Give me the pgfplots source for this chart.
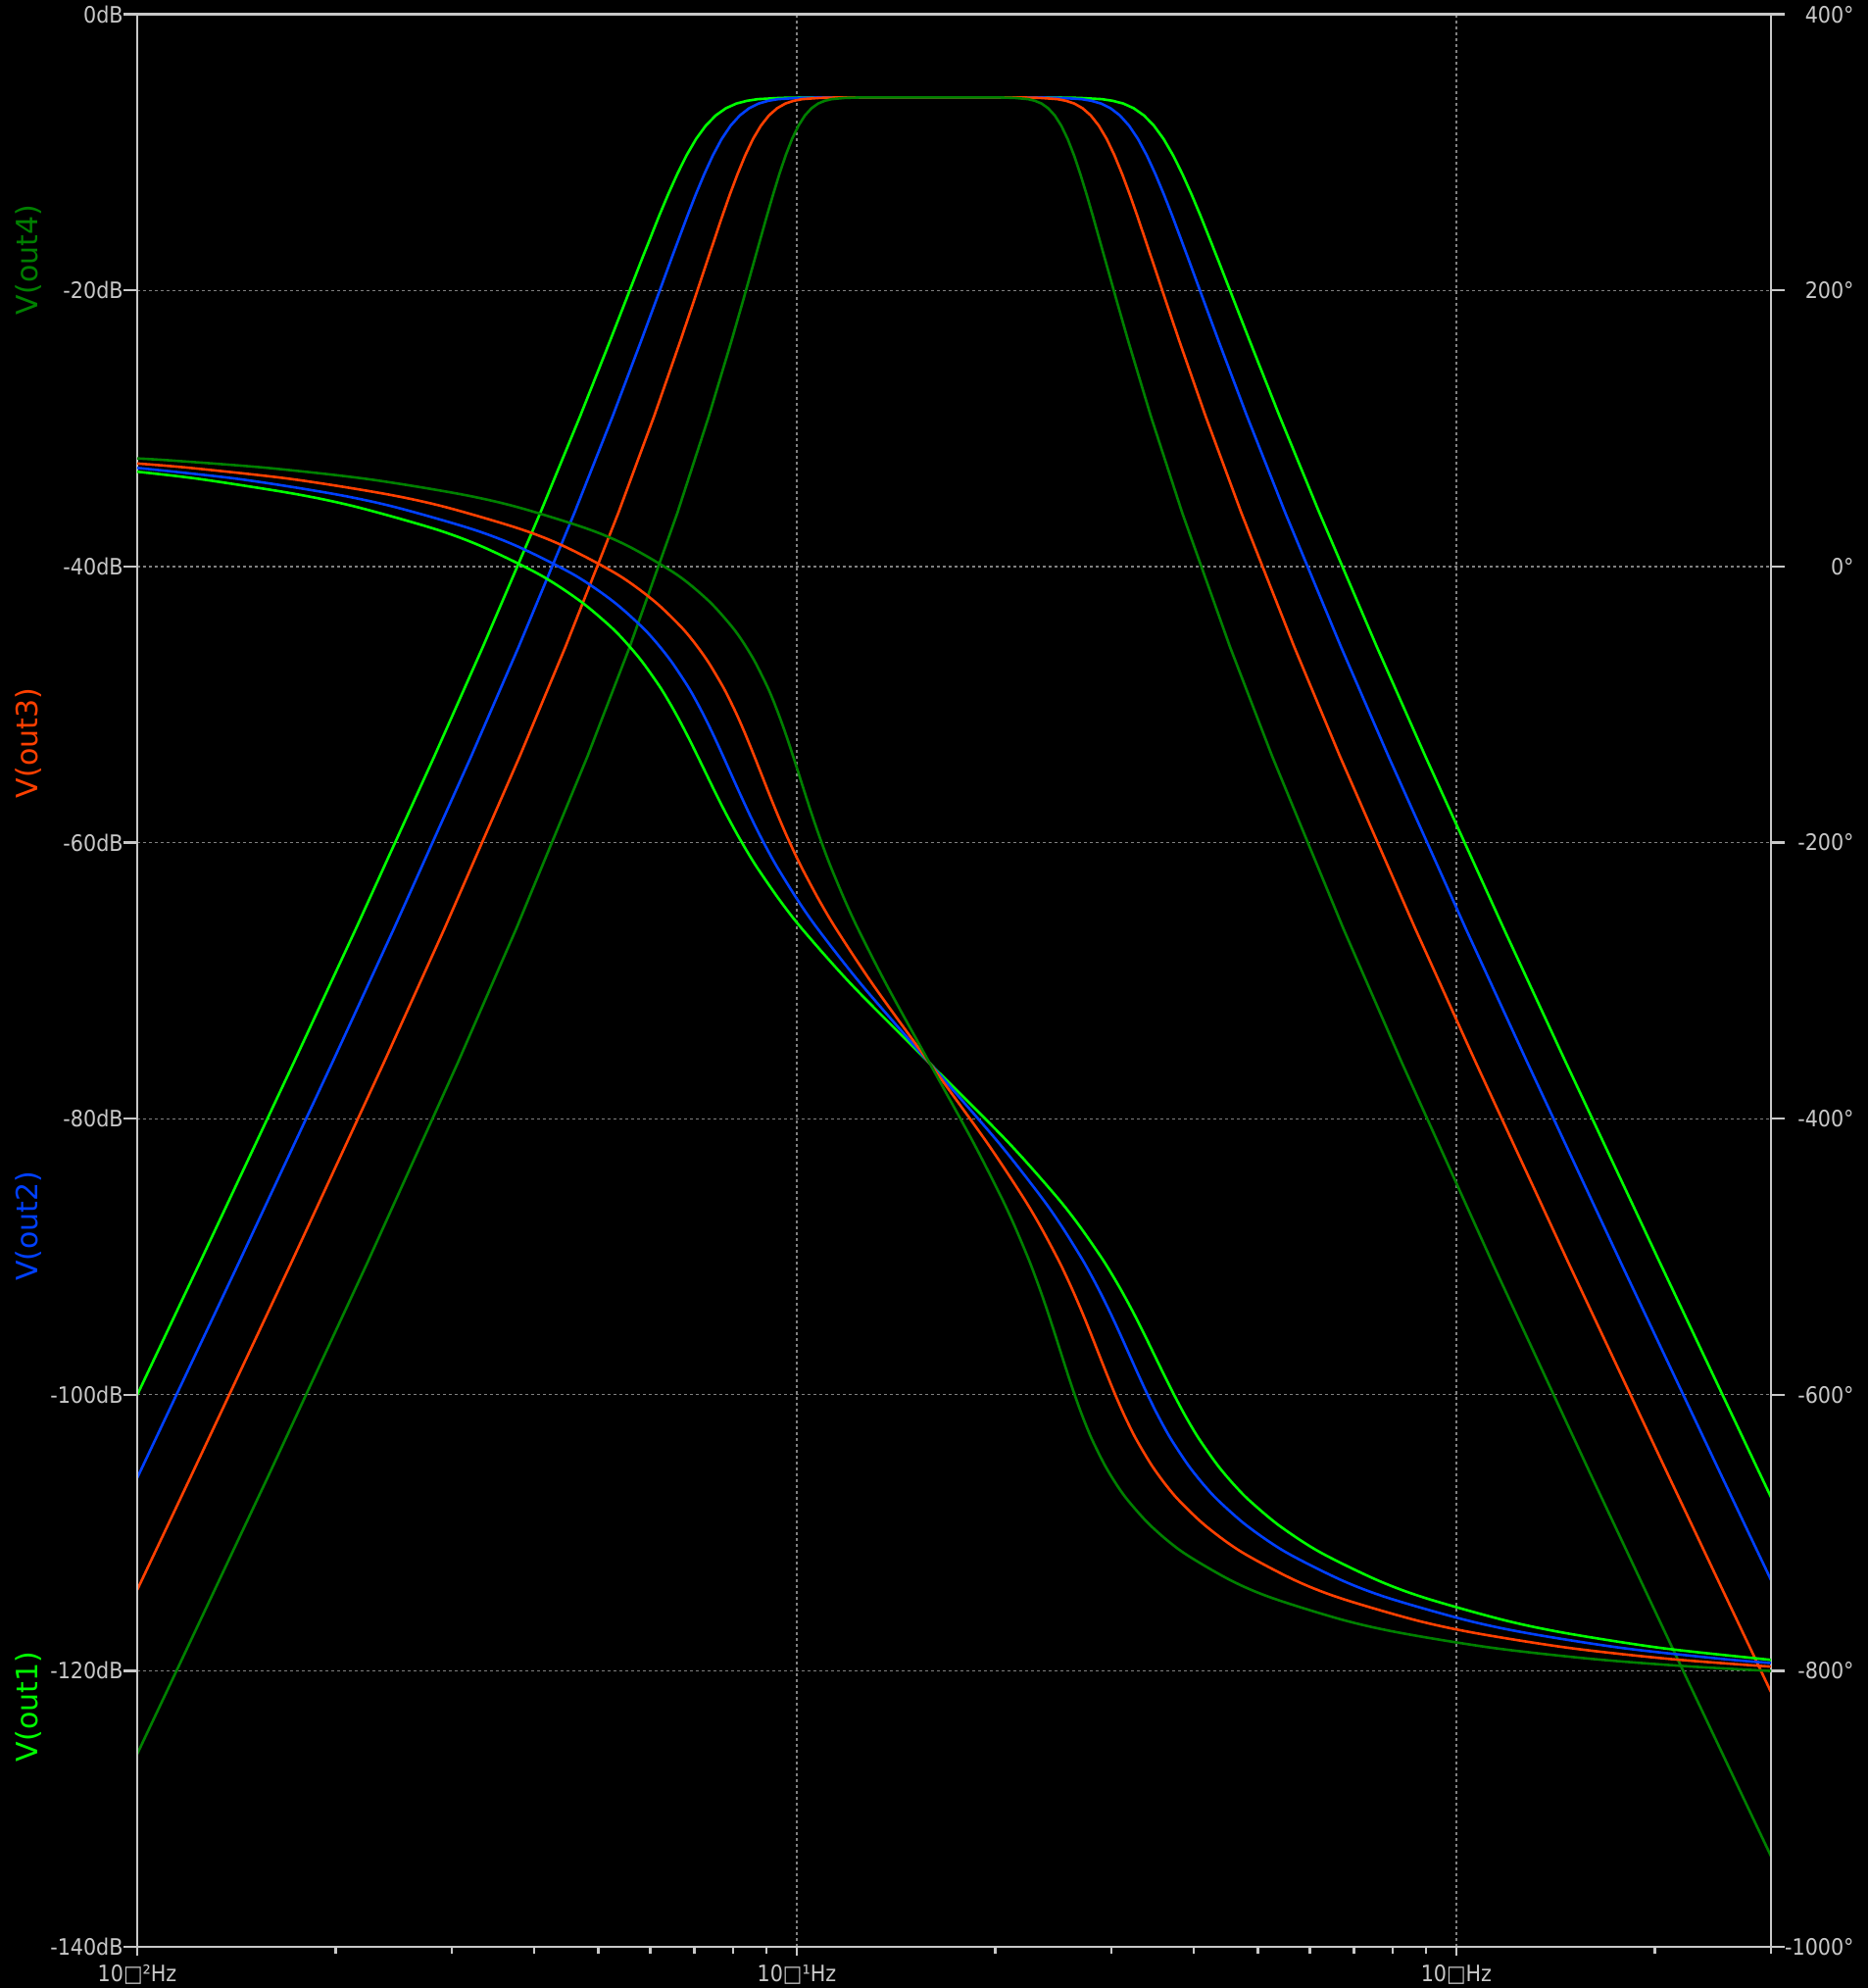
\documentclass[border=0pt]{standalone}
\usepackage{fontspec}
\setmainfont{DejaVu Sans}
\newfontfamily\tickfont{DejaVu Sans Condensed}
\usepackage{pgfplots}
\usepackage{pgfplotstable}
\pgfplotsset{compat=1.18}

\definecolor{trone}{RGB}{0,255,0}
\definecolor{trtwo}{RGB}{0,64,255}
\definecolor{trthree}{RGB}{255,64,0}
\definecolor{trfour}{RGB}{0,128,0}
\definecolor{axgray}{RGB}{200,200,200}
\definecolor{grgray}{RGB}{128,128,128}

% columns: frequency (Hz), magnitude (dB), phase (deg)
\pgfplotstableread{
f db ph
0.01 -100.02 68.67
0.012416 -90.53 63.44
0.017283 -75.92 52.73
0.021464 -66.23 43.26
0.028232 -53.73 27.27
0.033436 -45.81 14.19
0.040844 -36.12 -6.13
0.046961 -29.09 -25.06
0.052061 -23.70 -43.01
0.055003 -20.78 -54.61
0.058255 -17.72 -68.76
0.061863 -14.59 -86.36
0.063816 -13.05 -96.78
0.065878 -11.58 -108.38
0.068055 -10.22 -121.18
0.070358 -9.03 -135.00
0.072794 -8.06 -149.53
0.075372 -7.32 -164.32
0.078104 -6.80 -178.90
0.080998 -6.46 -192.95
0.084066 -6.26 -206.31
0.087321 -6.14 -218.95
0.094434 -6.05 -242.36
0.102440 -6.02 -263.87
0.121530 -6.02 -303.70
0.159155 -6.02 -360.00
0.208429 -6.02 -416.30
0.247271 -6.02 -456.13
0.268232 -6.05 -477.64
0.290084 -6.14 -501.05
0.301314 -6.26 -513.69
0.312728 -6.46 -527.05
0.324317 -6.80 -541.10
0.336068 -7.32 -555.68
0.347973 -8.06 -570.47
0.360020 -9.03 -585.00
0.372201 -10.22 -598.82
0.384506 -11.58 -611.62
0.396928 -13.05 -623.22
0.409458 -14.59 -633.64
0.434816 -17.72 -651.24
0.460530 -20.78 -665.39
0.486554 -23.70 -676.99
0.539387 -29.09 -694.94
0.620168 -36.12 -713.87
0.757591 -45.81 -734.19
0.897218 -53.73 -747.27
1.180113 -66.23 -763.26
1.465594 -75.92 -772.73
2.040051 -90.53 -783.44
2.905337 -106.02 -791.44
3.0 -107.42 -792.05
}\outone

\pgfplotstableread{
f db ph
0.01 -106.03 71.44
0.014230 -90.53 63.44
0.019773 -75.92 52.73
0.024508 -66.23 43.26
0.032109 -53.73 27.27
0.037889 -45.81 14.19
0.046011 -36.12 -6.13
0.052612 -29.09 -25.06
0.058040 -23.70 -43.01
0.061140 -20.78 -54.61
0.064539 -17.72 -68.76
0.068277 -14.59 -86.36
0.070287 -13.05 -96.78
0.072397 -11.58 -108.38
0.074614 -10.22 -121.18
0.076944 -9.03 -135.00
0.079395 -8.06 -149.53
0.081973 -7.32 -164.32
0.084686 -6.80 -178.90
0.087542 -6.46 -192.95
0.090548 -6.26 -206.31
0.093713 -6.14 -218.95
0.100553 -6.05 -242.36
0.108129 -6.02 -263.87
0.125752 -6.02 -303.70
0.159155 -6.02 -360.00
0.201431 -6.02 -416.30
0.234259 -6.02 -456.13
0.251910 -6.05 -477.64
0.270296 -6.14 -501.05
0.279744 -6.26 -513.69
0.289351 -6.46 -527.05
0.299108 -6.80 -541.10
0.309008 -7.32 -555.68
0.319042 -8.06 -570.47
0.329205 -9.03 -585.00
0.339487 -10.22 -598.82
0.349883 -11.58 -611.62
0.360386 -13.05 -623.22
0.370990 -14.59 -633.64
0.392479 -17.72 -651.24
0.414304 -20.78 -665.39
0.436431 -23.70 -676.99
0.481455 -29.09 -694.94
0.550532 -36.12 -713.87
0.668542 -45.81 -734.19
0.788891 -53.73 -747.27
1.033551 -66.23 -763.26
1.281076 -75.92 -772.73
1.780054 -90.53 -783.44
2.532608 -106.02 -791.44
3.0 -113.42 -794.37
}\outtwo

\pgfplotstableread{
f db ph
0.01 -114.14 74.62
0.012034 -106.02 71.44
0.017091 -90.53 63.44
0.023671 -75.92 52.73
0.029237 -66.23 43.26
0.038039 -53.73 27.27
0.044609 -45.81 14.19
0.053641 -36.12 -6.13
0.060803 -29.09 -25.06
0.066570 -23.70 -43.01
0.069815 -20.78 -54.61
0.073334 -17.72 -68.76
0.077155 -14.59 -86.36
0.079189 -13.05 -96.78
0.081310 -11.58 -108.38
0.083523 -10.22 -121.18
0.085831 -9.03 -135.00
0.088239 -8.06 -149.53
0.090753 -7.32 -164.32
0.093376 -6.80 -178.90
0.096114 -6.46 -192.95
0.098971 -6.26 -206.31
0.101952 -6.14 -218.95
0.108305 -6.05 -242.36
0.115213 -6.02 -263.87
0.130828 -6.02 -303.70
0.159155 -6.02 -360.00
0.193615 -6.02 -416.30
0.219857 -6.02 -456.13
0.233879 -6.05 -477.64
0.248454 -6.14 -501.05
0.255937 -6.26 -513.69
0.263545 -6.46 -527.05
0.271272 -6.80 -541.10
0.279113 -7.32 -555.68
0.287063 -8.06 -570.47
0.295119 -9.03 -585.00
0.303276 -10.22 -598.82
0.311528 -11.58 -611.62
0.319871 -13.05 -623.22
0.328302 -14.59 -633.64
0.345410 -17.72 -651.24
0.362819 -20.78 -665.39
0.380504 -23.70 -676.99
0.416595 -29.09 -694.94
0.472219 -36.12 -713.87
0.567831 -45.81 -734.19
0.665905 -53.73 -747.27
0.866393 -66.23 -763.26
1.070115 -75.92 -772.73
1.482113 -90.53 -783.44
2.104927 -106.02 -791.44
3.0 -121.54 -797.03
}\outthree

\pgfplotstableread{
f db ph
0.01 -126.03 78.30
0.01131 -120.63 76.76
0.01576 -106.02 71.44
0.02229 -90.53 63.44
0.03065 -75.92 52.73
0.03757 -66.23 43.26
0.04819 -53.73 27.27
0.05583 -45.81 14.19
0.06592 -36.12 -6.13
0.07360 -29.09 -25.06
0.07958 -23.70 -43.01
0.08287 -20.78 -54.61
0.08637 -17.72 -68.76
0.09011 -14.59 -86.36
0.09208 -13.05 -96.78
0.09410 -11.58 -108.38
0.09620 -10.22 -121.18
0.09836 -9.03 -135.00
0.10060 -8.06 -149.53
0.10291 -7.32 -164.32
0.10529 -6.80 -178.90
0.10775 -6.46 -192.95
0.11029 -6.26 -206.31
0.11292 -6.14 -218.95
0.11842 -6.05 -242.36
0.12426 -6.02 -263.87
0.13706 -6.02 -303.70
0.159155 -6.02 -360.00
0.18481 -6.02 -416.30
0.20384 -6.02 -456.13
0.21391 -6.05 -477.64
0.22433 -6.14 -501.05
0.22966 -6.26 -513.69
0.23508 -6.46 -527.05
0.24057 -6.80 -541.10
0.24615 -7.32 -555.68
0.25180 -8.06 -570.47
0.25752 -9.03 -585.00
0.26331 -10.22 -598.82
0.26917 -11.58 -611.62
0.27510 -13.05 -623.22
0.28110 -14.59 -633.64
0.29327 -17.72 -651.24
0.30568 -20.78 -665.39
0.31831 -23.70 -676.99
0.34416 -29.09 -694.94
0.38423 -36.12 -713.87
0.45372 -45.81 -734.19
0.52565 -53.73 -747.27
0.67419 -66.23 -763.26
0.82643 -75.92 -772.73
1.13637 -90.53 -783.44
1.60731 -106.02 -791.44
2.23948 -120.63 -796.76
3.0 -133.43 -800.14
}\outfour

\begin{document}
\begin{tikzpicture}
\fill[black] (0,0) rectangle (953pt,1014pt);

% frequency axis, frame and vertical grid
\begin{axis}[scale only axis, width=833.5pt, height=985.65pt,
  at={(70pt,21pt)}, anchor=south west,
  xmode=log, xmin=0.01, xmax=3, ymin=-140, ymax=0,
  axis line style={draw=axgray, line width=1.3pt},
  tick style={draw=axgray, line width=1.2pt},
  tick align=outside,
  ticklabel style={font=\tickfont\fontsize{11.5}{13}\selectfont, text=axgray},
  grid style={draw=grgray, line width=0.6pt, dash pattern=on 1.5pt off 1.5pt},
  ytick=\empty,
  xtick={0.01,0.1,1}, xticklabels={10□²Hz,10□¹Hz,10□Hz},
  minor xtick={0.02,0.03,0.04,0.05,0.06,0.07,0.08,0.09,0.2,0.3,0.4,0.5,0.6,0.7,0.8,0.9,2,3},
  xtick pos=left, major tick length=4.5pt, minor tick length=3.3pt,
  xmajorgrids,
  xticklabel style={inner sep=0pt, yshift=-4.5pt}]
\addplot[draw=none] coordinates {(0.1,-50)};
\end{axis}

% magnitude, left axis
\begin{axis}[scale only axis, width=833.5pt, height=985.65pt,
  at={(70pt,21pt)}, anchor=south west,
  xmode=log, xmin=0.01, xmax=3, ymin=-140, ymax=0,
  axis line style={draw=axgray, line width=1.3pt},
  tick style={draw=axgray, line width=1.2pt},
  tick align=outside,
  ticklabel style={font=\tickfont\fontsize{11.5}{13}\selectfont, text=axgray},
  grid style={draw=grgray, line width=0.6pt, dash pattern=on 1.5pt off 1.5pt},
  xtick=\empty, minor tick length=0pt,
  ytick={-140,-120,-100,-80,-60,-40,-20,0},
  yticklabels={-140dB,-120dB,-100dB,-80dB,-60dB,-40dB,-20dB,0dB},
  ytick pos=left, major tick length=7pt, ymajorgrids,
  yticklabel style={inner sep=0pt}]
\addplot[trone, line width=1.3pt, line join=round, mark=none] table[x=f, y=db] {\outone};
\addplot[trtwo, line width=1.3pt, line join=round, mark=none] table[x=f, y=db] {\outtwo};
\addplot[trthree, line width=1.3pt, line join=round, mark=none] table[x=f, y=db] {\outthree};
\addplot[trfour, line width=1.3pt, line join=round, mark=none] table[x=f, y=db] {\outfour};
\end{axis}

% phase, right axis
\begin{axis}[scale only axis, width=833.5pt, height=985.65pt,
  at={(70pt,21pt)}, anchor=south west,
  xmode=log, xmin=0.01, xmax=3, ymin=-1000, ymax=400,
  axis line style={draw=axgray, line width=1.3pt},
  tick style={draw=axgray, line width=1.2pt},
  tick align=outside,
  ticklabel style={font=\tickfont\fontsize{11.5}{13}\selectfont, text=axgray},
  xtick=\empty, minor tick length=0pt,
  ytick={-1000,-800,-600,-400,-200,0,200,400},
  yticklabels={-1000°,-800°,-600°,-400°,-200°,0°,200°,400°},
  ytick pos=right, yticklabel pos=right, major tick length=7pt,
  yticklabel style={anchor=east, xshift=35.5pt, inner sep=0pt}]
\addplot[trone, line width=1.3pt, smooth, tension=0.5, mark=none] table[x=f, y=ph] {\outone};
\addplot[trtwo, line width=1.3pt, smooth, tension=0.5, mark=none] table[x=f, y=ph] {\outtwo};
\addplot[trthree, line width=1.3pt, smooth, tension=0.5, mark=none] table[x=f, y=ph] {\outthree};
\addplot[trfour, line width=1.3pt, smooth, tension=0.5, mark=none] table[x=f, y=ph] {\outfour};
\end{axis}

\begin{scope}[every node/.style={rotate=90, inner sep=0pt, font=\fontsize{15}{18}\selectfont}]
\node[text=trfour] at (14.4pt,881.5pt) {V(out4)};
\node[text=trthree] at (14.4pt,635pt) {V(out3)};
\node[text=trtwo] at (14.4pt,388.7pt) {V(out2)};
\node[text=trone] at (14.4pt,143.5pt) {V(out1)};
\end{scope}

\pgfresetboundingbox
\useasboundingbox (0,0) rectangle (953pt,1014pt);
\end{tikzpicture}
\end{document}
